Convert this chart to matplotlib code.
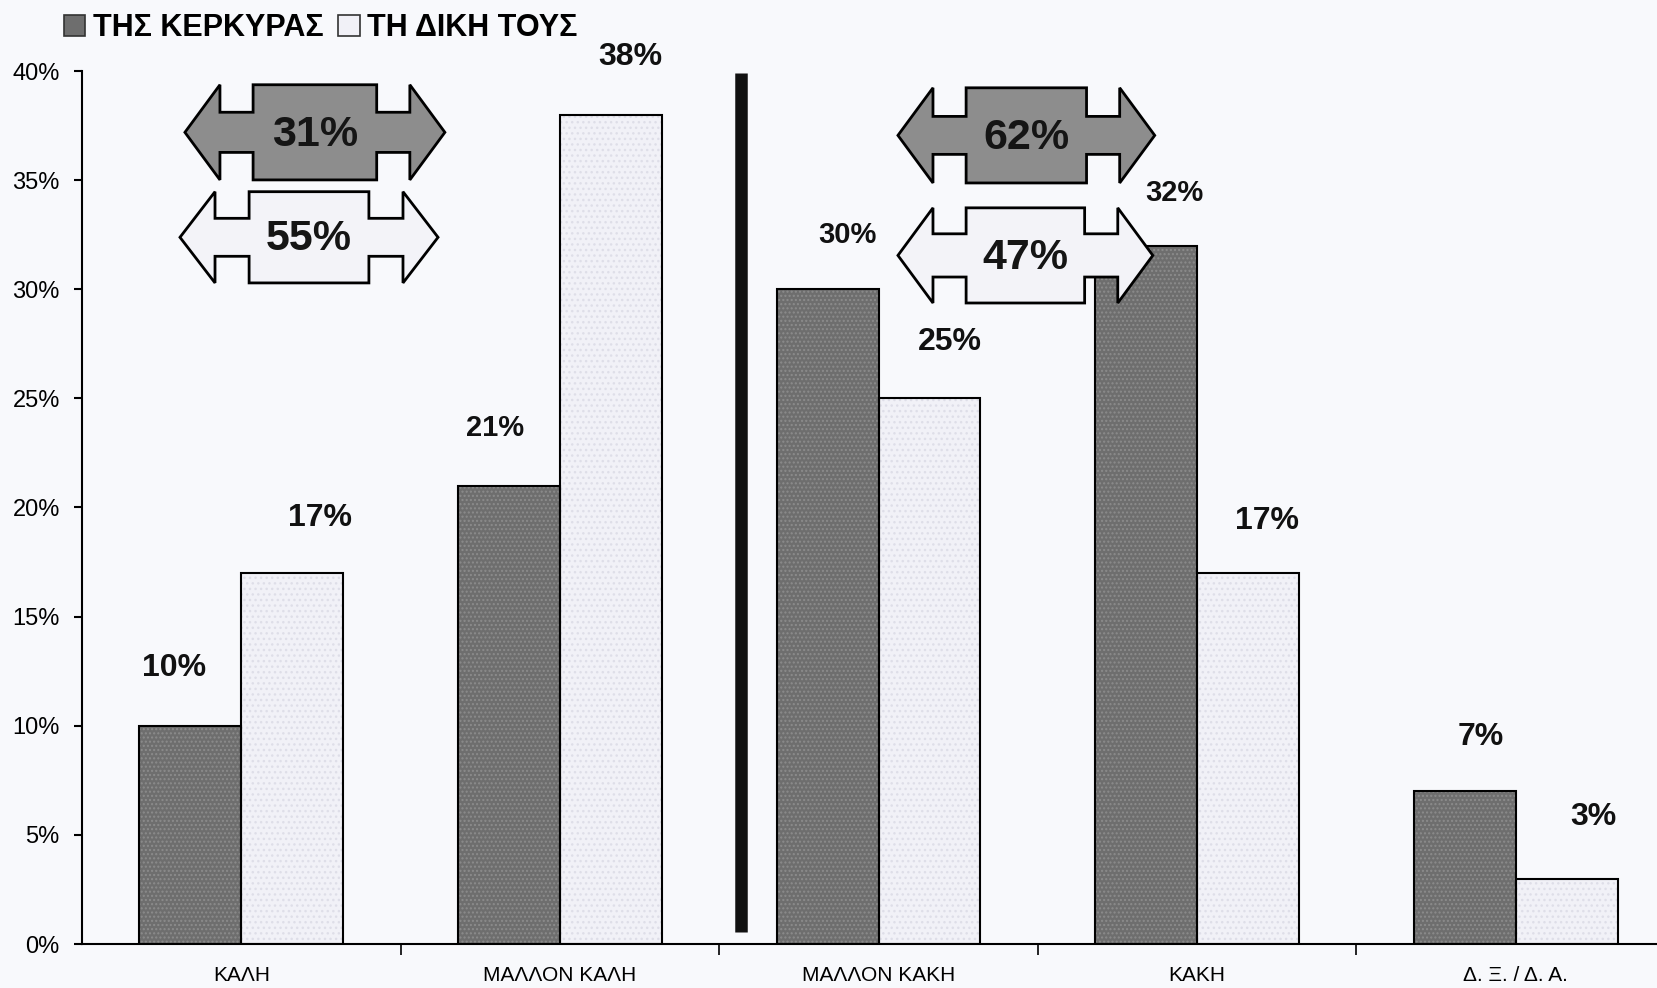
import matplotlib
matplotlib.use("Agg")
import matplotlib.pyplot as plt
from matplotlib.patches import Polygon, Patch
from matplotlib.ticker import FixedLocator, PercentFormatter

# ---------------- data ----------------
categories = ["ΚΑΛΗ", "ΜΑΛΛΟΝ ΚΑΛΗ", "ΜΑΛΛΟΝ ΚΑΚΗ", "ΚΑΚΗ", "Δ. Ξ. / Δ. Α."]
series_names = ["ΤΗΣ ΚΕΡΚΥΡΑΣ", "ΤΗ ΔΙΚΗ ΤΟΥΣ"]
kerkyra = [10, 21, 30, 32, 7]
diki_tous = [17, 38, 25, 17, 3]
positive_totals = [31, 55]   # ΚΑΛΗ + ΜΑΛΛΟΝ ΚΑΛΗ
negative_totals = [62, 47]   # ΜΑΛΛΟΝ ΚΑΚΗ + ΚΑΚΗ
yticks = [0, 5, 10, 15, 20, 25, 30, 35, 40]

# ---------------- style ----------------
BG = "#f8f9fc"
DARK = "#6e6e6e"
DARK_HATCH = "#8c8c8c"
LIGHT = "#f1f1f7"
LIGHT_HATCH = "#dedee8"
ARROW_DARK = "#8d8d8d"
ARROW_LIGHT = "#f3f3f8"

W, H = 1657, 988
fig = plt.figure(figsize=(W / 100, H / 100), dpi=100, facecolor=BG)
ax = fig.add_axes([82 / W, 1 - 944 / H, 1593 / W, (944 - 71) / H])
ax.set_facecolor(BG)

x = list(range(len(categories)))
bw = 0.32
xd = [i - bw / 2 for i in x]
xl = [i + bw / 2 for i in x]

# textured fills then black outlines
ax.bar(xd, kerkyra, bw, color=DARK, hatch="....", edgecolor=DARK_HATCH, linewidth=0, zorder=2)
ax.bar(xd, kerkyra, bw, fill=False, edgecolor="black", linewidth=1.5, zorder=3)
ax.bar(xl, diki_tous, bw, color=LIGHT, hatch="...", edgecolor=LIGHT_HATCH, linewidth=0, zorder=2)
ax.bar(xl, diki_tous, bw, fill=False, edgecolor="black", linewidth=1.5, zorder=3)

# value labels
dx_dark = [-0.05, -0.043, 0.063, 0.09, 0.05]
dx_light = [0.086, 0.06, 0.063, 0.06, 0.083]
dy_dark = [2.65, 2.65, 2.5, 2.4, 2.5]
dy_light = [2.5, 2.65, 2.6, 2.4, 2.8]
size_dark = [23, 21, 21, 21, 23]
size_light = [23, 23, 23, 23, 23]
for i in x:
    ax.text(xd[i] + dx_dark[i], kerkyra[i] + dy_dark[i], f"{kerkyra[i]}%", ha="center", va="center",
            fontsize=size_dark[i], fontweight="bold", family="Liberation Sans", color="#111111", zorder=5)
    ax.text(xl[i] + dx_light[i], diki_tous[i] + dy_light[i], f"{diki_tous[i]}%", ha="center", va="center",
            fontsize=size_light[i], fontweight="bold", family="Liberation Sans", color="#111111", zorder=5)

# divider line
ax.plot([1.568, 1.568], [0.55, 39.9], color="#111111", linewidth=9, solid_capstyle="butt", zorder=4)


def double_arrow(cx, cy, half_len, head_len, shaft_len, half_h, shaft_half, face, label):
    x0 = cx - half_len
    x1 = x0 + head_len
    x2 = x1 + shaft_len
    x5 = cx + half_len
    x4 = x5 - head_len
    x3 = x4 - shaft_len
    pts = [
        (x0, cy), (x1, cy + half_h), (x1, cy + shaft_half), (x2, cy + shaft_half),
        (x2, cy + half_h), (x3, cy + half_h), (x3, cy + shaft_half), (x4, cy + shaft_half),
        (x4, cy + half_h), (x5, cy), (x4, cy - half_h), (x4, cy - shaft_half),
        (x3, cy - shaft_half), (x3, cy - half_h), (x2, cy - half_h), (x2, cy - shaft_half),
        (x1, cy - shaft_half), (x1, cy - half_h),
    ]
    ax.add_patch(Polygon(pts, closed=True, facecolor=face, edgecolor="black", linewidth=2, zorder=6))
    ax.text(cx, cy - 0.1, label, ha="center", va="center", fontsize=31, fontweight="bold",
            family="Liberation Sans", color="#151515", zorder=7)


double_arrow(0.231, 37.19, 0.408, 0.110, 0.104, 2.18, 0.92, ARROW_DARK, f"{positive_totals[0]}%")
double_arrow(0.2125, 32.38, 0.405, 0.110, 0.107, 2.09, 0.87, ARROW_LIGHT, f"{positive_totals[1]}%")
double_arrow(2.464, 37.05, 0.403, 0.110, 0.104, 2.18, 0.87, ARROW_DARK, f"{negative_totals[0]}%")
double_arrow(2.461, 31.55, 0.400, 0.110, 0.104, 2.18, 0.99, ARROW_LIGHT, f"{negative_totals[1]}%")

# axes
ax.set_xlim(-0.5, len(categories) - 0.5)
ax.set_ylim(0, 40)
ax.spines["top"].set_visible(False)
ax.spines["right"].set_visible(False)
ax.spines["left"].set_linewidth(1.5)
ax.spines["bottom"].set_linewidth(1.5)

ax.yaxis.set_major_locator(FixedLocator(yticks))
ax.yaxis.set_major_formatter(PercentFormatter(decimals=0))
ax.tick_params(axis="y", length=6, width=1.5, pad=10, labelsize=17)
for t in ax.get_yticklabels():
    t.set_family("Liberation Sans")

ax.set_xticks(x)
ax.set_xticklabels(categories, family="Liberation Sans", fontsize=15)
ax.tick_params(axis="x", which="major", length=0, pad=16)
ax.set_xticks([i + 0.5 for i in x[:-1]], minor=True)
ax.tick_params(axis="x", which="minor", length=8, width=1.2, direction="out")

# legend
handles = [Patch(facecolor=DARK, edgecolor="#333333", linewidth=1.2),
           Patch(facecolor=LIGHT, edgecolor="#333333", linewidth=1.2)]
fig.legend(handles, series_names, loc="upper left", bbox_to_anchor=(36 / W, 1 + 14 / H),
           ncol=2, frameon=False, handlelength=0.7, handleheight=0.7, handletextpad=0.25,
           columnspacing=0.5, prop={"family": "Liberation Sans", "weight": "bold", "size": 22})

fig.savefig("out.png", dpi=100, facecolor=BG)
